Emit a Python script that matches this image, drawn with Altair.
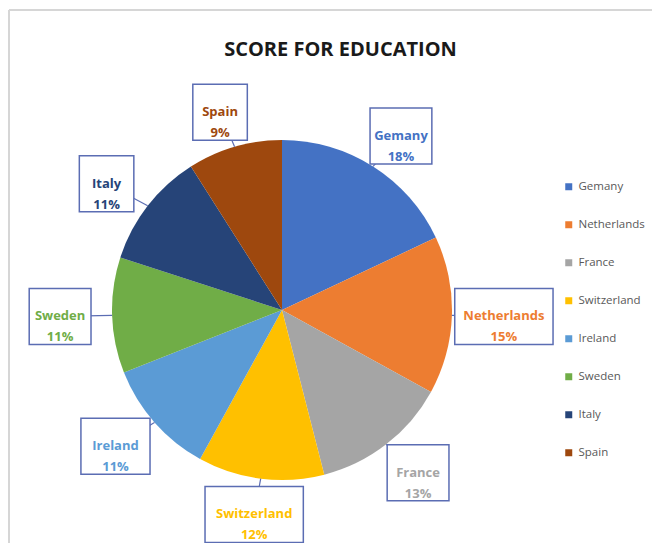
import altair as alt
import pandas as pd

COUNTRIES = ["Gemany", "Netherlands", "France", "Switzerland", "Ireland", "Sweden", "Italy", "Spain"]
SCORES = [18, 15, 13, 12, 11, 11, 11, 9]
COLORS = ["#4472C4", "#ED7D31", "#A5A5A5", "#FFC000", "#5B9BD5", "#70AD47", "#264478", "#9E480E"]

df = pd.DataFrame({"country": COUNTRIES, "value": SCORES, "idx": list(range(len(COUNTRIES)))})

W, H = 643, 533
CX, CY = 273, 300
R = 170
RLX, RLY = 222, 206
BOX_H = 56
BORDER = "#5b6db3"

color_scale = alt.Scale(domain=COUNTRIES, range=COLORS)

base = (
    alt.Chart(df)
    .transform_joinaggregate(total="sum(value)")
    .transform_window(cum="sum(value)", sort=[alt.SortField("idx")], frame=[None, 0])
    .transform_calculate(
        mid="(datum.cum - datum.value / 2) / datum.total * 2 * PI",
        label="datum.country + '\\n' + round(datum.value / datum.total * 100) + '%'",
    )
    .transform_calculate(
        lx=f"{CX} + {RLX} * sin(datum.mid)",
        ly=f"{CY} - {RLY} * cos(datum.mid)",
        ex=f"{CX} + {R} * sin(datum.mid)",
        ey=f"{CY} - {R} * cos(datum.mid)",
        bw="length(datum.country) * 7.3 + 18",
    )
    .transform_calculate(
        bx1="datum.lx - datum.bw / 2",
        bx2="datum.lx + datum.bw / 2",
        by1=f"datum.ly - {BOX_H / 2}",
        by2=f"datum.ly + {BOX_H / 2}",
    )
)

pie = base.mark_arc(radius=R).encode(
    theta=alt.Theta("value:Q", stack=True),
    order=alt.Order("idx:Q"),
    x=alt.value(CX),
    y=alt.value(CY),
    color=alt.Color(
        "country:N",
        scale=color_scale,
        sort=COUNTRIES,
        legend=alt.Legend(
            orient="none", legendX=554, legendY=171, title=None,
            symbolType="square", symbolSize=49, symbolStrokeWidth=0, symbolOpacity=1,
            labelFont="Open Sans", labelFontSize=11.5, labelColor="#595959",
            rowPadding=25, labelOffset=4, padding=0,
        ),
    ),
)

pointers = base.mark_rule(color=BORDER, strokeWidth=1.2).encode(
    x=alt.X("ex:Q", scale=None, axis=None),
    y=alt.Y("ey:Q", scale=None, axis=None),
    x2="lx:Q",
    y2="ly:Q",
)

boxes = base.mark_rect(fill="white", stroke=BORDER, strokeWidth=1.5).encode(
    x=alt.X("bx1:Q", scale=None, axis=None),
    x2="bx2:Q",
    y=alt.Y("by1:Q", scale=None, axis=None),
    y2="by2:Q",
)

labels = base.mark_text(
    lineBreak="\n", font="Open Sans", fontSize=13, fontWeight="bold",
    lineHeight=21, align="center", baseline="middle",
).encode(
    x=alt.X("lx:Q", scale=None, axis=None),
    y=alt.Y("ly:Q", scale=None, axis=None),
    text="label:N",
    color=alt.Color("country:N", scale=color_scale, legend=None),
)

frame_df = pd.DataFrame({"a": [0]})
top_line = alt.Chart(frame_df).mark_rule(color="#d6d6d6", strokeWidth=2).encode(
    x=alt.value(0), x2=alt.value(W), y=alt.value(0)
)
left_line = alt.Chart(frame_df).mark_rule(color="#d6d6d6", strokeWidth=2).encode(
    x=alt.value(0), y=alt.value(0), y2=alt.value(H)
)

chart = (
    alt.layer(pie, pointers, boxes, labels, top_line, left_line)
    .properties(
        width=W,
        height=H,
        autosize=alt.AutoSizeParams(type="none"),
        padding={"left": 1, "top": 2, "right": 0, "bottom": 0},
        title=alt.TitleParams(
            "SCORE FOR EDUCATION", font="Open Sans", fontSize=20, fontWeight="bold",
            color="#1a1a1a", anchor="middle", frame="group", offset=-67, dx=10,
            baseline="alphabetic",
        ),
    )
    .configure_view(stroke=None)
    .configure(background="white")
)

chart.save("out.html", embed_options={"renderer": "svg", "actions": False})
